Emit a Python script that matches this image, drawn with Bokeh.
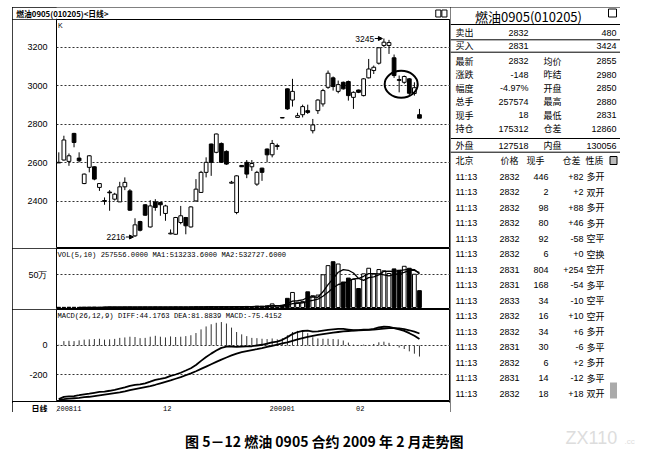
import pandas as pd
from bokeh.plotting import figure
from bokeh.models import Range1d, FixedTicker, Spacer, Arrow, NormalHead
from bokeh.layouts import row, column
from bokeh.embed import file_html
from bokeh.resources import INLINE
from bokeh.core.properties import value

# ---------------- data ----------------
bars = list(range(1, 73))
opens = [2600, 2615, 2608, 2753, 2625, 2493, 2577, 2580, 2473, 2405,
         2449, 2412, 2398, 2476, 2455, 2222, 2296, 2383, 2268, 2398,
         2395, 2338, 2232, 2230, 2291, 2317, 2268, 2403, 2447, 2551,
         2698, 2655, 2701, 2660, 2495, 2343, 2587, 2603, 2580, 2490,
         2573, 2672, 2642, 2685, 2835, 2984, 2926, 2836, 2850, 2871,
         2767, 2871, 2906, 2992, 3041, 2971, 3018, 3022, 2940, 2978,
         2949, 3041, 3079, 3117, 3209, 3209, 3145, 3032, 3018, 3036,
         2960, 2850]
highs = [2655, 2741, 2649, 2756, 2655, 2545, 2640, 2582, 2495, 2421,
         2459, 2445, 2502, 2525, 2464, 2313, 2300, 2386, 2407, 2412,
         2398, 2383, 2255, 2320, 2377, 2320, 2375, 2516, 2559, 2629,
         2700, 2752, 2706, 2665, 2507, 2536, 2588, 2615, 2615, 2559,
         2575, 2675, 2719, 2700, 2836, 2986, 3036, 2860, 2902, 2902,
         2828, 2930, 2984, 3079, 3048, 3027, 3022, 3027, 2971, 2980,
         3040, 3139, 3105, 3200, 3245, 3238, 3162, 3053, 3053, 3040,
         3018, 2880]
lows = [2600, 2612, 2585, 2681, 2603, 2490, 2551, 2510, 2455, 2383,
        2352, 2405, 2398, 2459, 2352, 2216, 2245, 2326, 2265, 2352,
        2326, 2300, 2230, 2228, 2282, 2230, 2265, 2400, 2445, 2525,
        2533, 2650, 2600, 2590, 2493, 2334, 2579, 2521, 2559, 2481,
        2507, 2603, 2629, 2668, 2832, 2875, 2892, 2833, 2836, 2854,
        2753, 2854, 2892, 2984, 2975, 2961, 2980, 2923, 2880, 2962,
        2945, 3038, 3061, 3110, 3200, 3165, 3041, 2966, 3010, 2949,
        2949, 2831]
closes = [2603, 2719, 2637, 2706, 2611, 2542, 2637, 2516, 2493, 2401,
          2445, 2438, 2476, 2499, 2355, 2279, 2251, 2329, 2377, 2369,
          2383, 2377, 2236, 2317, 2326, 2274, 2372, 2464, 2551, 2603,
          2603, 2750, 2603, 2594, 2500, 2533, 2580, 2542, 2597, 2551,
          2551, 2642, 2701, 2690, 2833, 2880, 2971, 2845, 2892, 2862,
          2797, 2926, 2975, 3065, 2996, 3006, 2984, 2949, 2966, 2966,
          3036, 3087, 3096, 3197, 3226, 3224, 3053, 3028, 3048, 2961,
          2990, 2832]
volumes = [3000, 2000, 4000, 3000, 2000, 3000, 4000, 5000, 3000, 4000,
           5000, 4000, 3000, 5000, 6000, 4000, 5000, 6000, 5000, 7000,
           6000, 5000, 6000, 8000, 7000, 6000, 8000, 9000, 8000, 10000,
           12000, 9000, 11000, 10000, 12000, 14000, 12000, 16000, 15000, 20000,
           18000, 25000, 55000, 30000, 35000, 140000, 230000, 80000, 90000, 240000,
           180000, 190000, 500000, 640000, 700000, 665000, 390000, 450000, 430000, 290000,
           515000, 600000, 511108, 580000, 560000, 520000, 590000, 570000, 630000, 600000,
           508612, 257556]
diff = [-365.5, -351, -347, -345, -339.5, -333, -329, -323, -317, -315,
        -309, -302.5, -294, -285.5, -275, -269, -266, -258, -247, -235,
        -228, -220.5, -207, -198, -186, -171, -155, -133.5, -105, -79,
        -55.5, -34.5, -16, -7, -7, -9, -7, -6, -5, 0,
        5, 12, 22, 27, 39, 57, 78, 92, 99, 101,
        94, 96, 101, 106, 110, 113, 113, 109, 104, 105,
        108, 109, 114, 123, 128, 127, 119, 110, 100, 84,
        66, 44.1763]
dea = [-368, -366, -363, -360, -357, -353, -350, -345, -340, -335,
       -330, -325, -320, -313, -305, -298, -291, -284, -277, -268,
       -258, -248, -238, -227, -216, -203, -190, -176, -160, -144,
       -128, -112, -96, -82, -68, -55, -45, -38, -31, -25,
       -18, -10, -2, 6, 14, 22, 32, 42, 51, 59,
       66, 72, 78, 83, 88, 92, 96, 99, 101, 103,
       105, 107, 109, 112, 115, 118, 119, 117, 112, 104,
       94, 81.8839]
macd = [5, 30, 32, 30, 35, 40, 42, 44, 46, 40,
        42, 45, 52, 55, 60, 58, 50, 52, 60, 66,
        60, 55, 62, 58, 60, 64, 70, 85, 110, 130,
        145, 155, 160, 150, 122, 92, 76, 64, 52, 50,
        46, 44, 48, 42, 50, 70, 92, 100, 96, 84,
        56, 48, 46, 46, 44, 42, 34, 20, 6, 4,
        6, 4, 10, 22, 26, 18, 0, -14, -24, -40,
        -56, -75.4152]
month_labels = ["200811", "12", "200901", "02"]
month_start_bars = [1, 22, 43, 60]
price_ticks = [2400, 2600, 2800, 3000, 3200]
vol_ticks = [500000]
vol_tick_labels = ["50万"]
macd_ticks = [-200, 0]
macd_tick_labels = ["-200", "0"]

sell_row = ["卖出", "2832", "480"]
buy_row = ["买入", "2831", "3424"]
quote_names_l = ["最新", "涨跌", "幅度", "总手", "现手", "持仓"]
quote_vals_l = ["2832", "-148", "-4.97%", "257574", "18", "175312"]
quote_names_r = ["均价", "昨结", "开盘", "最高", "最低", "仓差"]
quote_vals_r = ["2855", "2980", "2850", "2880", "2831", "12860"]
outer_inner = ["外盘", "127518", "内盘", "130056"]
trade_header = ["北京", "价格", "现手", "仓差", "性质"]
trade_times = ["11:13"] * 15
trade_prices = ["2832", "2832", "2832", "2832", "2832", "2832", "2831", "2831",
                "2833", "2832", "2832", "2831", "2832", "2831", "2832"]
trade_vols = ["446", "2", "98", "80", "92", "6", "804", "168", "34", "16",
              "34", "30", "6", "14", "18"]
trade_oi = ["+82", "+2", "+88", "+46", "-58", "+0", "+254", "-54", "-10", "+10",
            "+6", "-6", "+2", "-12", "+18"]
trade_types = ["多开", "双开", "多开", "多开", "空平", "空换", "空开", "多平", "空平",
               "空开", "多开", "多平", "多开", "多平", "双开"]
title_text = "燃油0905(010205)<日线>"
axis_name = "日线"
panel_title = "燃油0905(010205)"
caption = "图 5－12   燃油 0905 合约 2009 年 2 月走势图"

# ---------------- layout constants ----------------
CJK = "Noto Sans CJK SC"
SANS = "Liberation Sans"
MONO = "Liberation Mono"
BOX = {"outline": "1px solid black", "outline-offset": "-1px"}
W = 438            # left column width
AXW = 44           # y-axis label area
BAR_PX = 5.08      # pixels per bar
FIRST_OFF = 2.3    # first bar offset from frame left (px)
x_start = 1 - FIRST_OFF / BAR_PX
x_end = x_start + (W - AXW) / BAR_PX
xr = Range1d(x_start, x_end)

up = [c >= o for o, c in zip(opens, closes)]
fills = ["white" if u else "black" for u in up]
s = pd.Series(volumes, dtype=float)
ma5 = s.rolling(5).mean()
ma10 = s.rolling(10).mean()


def txt(p, xs, ys, texts, align="left", size="9px", font=CJK, style="normal",
        color="black", baseline="middle"):
    p.text(x=xs, y=ys, text=texts, text_align=align, text_baseline=baseline,
           text_font_size=size, text_font=value(font), text_font_style=style,
           text_color=color)


def bare(width, height, xrange, yrange, styles=BOX):
    p = figure(width=width, height=height, x_range=xrange, y_range=yrange,
               output_backend="svg", toolbar_location=None, tools="",
               x_axis_location=None, y_axis_location=None, min_border=0,
               outline_line_color=None, background_fill_color="white",
               border_fill_color="white", styles=styles)
    p.grid.visible = False
    return p


def style_yaxis(ax, ticks, overrides=None, size="9px", font=SANS, bold=False,
                standoff=3):
    ax.ticker = FixedTicker(ticks=ticks)
    ax.major_tick_line_color = None
    ax.minor_tick_line_color = None
    ax.axis_line_color = None
    ax.major_label_standoff = standoff
    ax.major_label_text_font_size = size
    ax.major_label_text_font = font
    ax.major_label_text_color = "black"
    if bold:
        ax.major_label_text_font_style = "bold"
    if overrides:
        ax.major_label_overrides = overrides


def panel(height, y0, y1, ticks, overrides=None, outline="black"):
    p = figure(width=W, height=height, x_range=xr, y_range=Range1d(y0, y1),
               output_backend="svg", toolbar_location=None, tools="",
               x_axis_location=None, min_border=0, min_border_left=AXW,
               outline_line_color=outline, background_fill_color="white",
               border_fill_color="white", styles=BOX)
    style_yaxis(p.yaxis[0], ticks, overrides)
    p.xgrid.visible = False
    p.ygrid.grid_line_color = "#333333"
    p.ygrid.grid_line_dash = "2 2"
    p.ygrid.grid_line_width = 1
    return p


# ---------------- header strip (title as the strip's single axis label) ----------------
hd = panel(12, 0, 12, [6], {6: title_text}, outline=None)
style_yaxis(hd.yaxis[0], [6], {6: title_text}, size="7.8px", font=CJK, bold=True,
            standoff=-58)
hd.ygrid.visible = False
hd.rect(x=[x_end - 2.4, x_end - 1.2], y=[6, 6], width=1.0, height=7,
        fill_color=None, line_color="black")

# ---------------- candles ----------------
cp = panel(229, 2156.3, 3343.6, price_ticks)
cp.segment(x0=bars, y0=highs, x1=bars, y1=lows, line_color="black", line_width=1)
cp.vbar(x=bars, width=0.74, top=[max(o, c) for o, c in zip(opens, closes)],
        bottom=[min(o, c) for o, c in zip(opens, closes)], fill_color=fills,
        line_color="black", line_width=1)
txt(cp, [x_start + 0.3], [3343.6 - 12], ["K"], size="7px", font=SANS,
    baseline="top")
k_hi = max(range(len(highs)), key=lambda k: highs[k])
k_lo = min(range(len(lows)), key=lambda k: lows[k])
for k, val in ((k_hi, highs[k_hi]), (k_lo, lows[k_lo])):
    b = bars[k]
    txt(cp, [b - 1.9], [val], [str(val)], align="right", size="8.5px", font=SANS)
    cp.add_layout(Arrow(end=NormalHead(size=4, fill_color="black",
                                       line_color="black"),
                        x_start=b - 1.8, y_start=val, x_end=b - 0.3, y_end=val,
                        line_color="black", line_width=1))
cp.ellipse(x=[68.4], y=[3008], width=[6.5], height=[140], fill_color=None,
           line_color="black", line_width=2)

# ---------------- volume ----------------
vp = panel(61, -30600, 902000, vol_ticks, dict(zip(vol_ticks, vol_tick_labels)))
vp.vbar(x=bars, width=0.74, top=volumes, bottom=0, fill_color=fills,
        line_color="black", line_width=1)
vp.line(bars, ma5.tolist(), line_color="black", line_width=1.3)
vp.line(bars, ma10.tolist(), line_color="black", line_width=1.3)
vol_head = "VOL(5,10) %.4f MA1:%.4f MA2:%.4f" % (volumes[-1], ma5.iloc[-1], ma10.iloc[-1])
txt(vp, [x_start + 0.2], [902000 - 45000], [vol_head], size="7.2px", font=MONO,
    baseline="top")

# ---------------- MACD ----------------
mp = panel(92, -382.3, 245.7, macd_ticks, dict(zip(macd_ticks, macd_tick_labels)))
mp.segment(x0=bars, y0=[0] * len(bars), x1=bars, y1=macd, line_color="#333333",
           line_width=1)
mp.line(bars, diff, line_color="black", line_width=1.8)
mp.line(bars, dea, line_color="black", line_width=1.8)
macd_head = "MACD(26,12,9) DIFF:%.4f DEA:%.4f MACD:%.4f" % (diff[-1], dea[-1], macd[-1])
txt(mp, [x_start + 0.2], [245.7 - 14], [macd_head], size="7.2px", font=MONO,
    baseline="top")

# ---------------- date strip ----------------
ds = panel(11, 0, 1, [0.5], {0.5: axis_name}, outline=None)
style_yaxis(ds.yaxis[0], [0.5], {0.5: axis_name}, size="8px", font=CJK, bold=True)
ds.ygrid.visible = False
txt(ds, [m - 0.5 for m in month_start_bars], [0.5] * len(month_labels),
    month_labels, size="7px", font=MONO)

left_col = column(hd, cp, vp, mp, ds)

# ---------------- right quote panel ----------------
rp = bare(170, 405, Range1d(0, 170), Range1d(404, -1))
txt(rp, [78], [7.5], [panel_title], align="center", size="13px")
rp.rect(x=[162], y=[4.5], width=8, height=8, fill_color=None, line_color="black")
line_ys = [16, 31.3, 43.7, 130, 143.7]
rp.segment(x0=[0] * len(line_ys), y0=line_ys, x1=[170] * len(line_ys), y1=line_ys,
           line_color="black", line_width=1)
top_rows = [sell_row, buy_row]
top_ys = [24.3, 37.3]
txt(rp, [5, 5], top_ys, [r[0] for r in top_rows])
txt(rp, [78, 78], top_ys, [r[1] for r in top_rows], align="right", font=SANS)
txt(rp, [166, 166], top_ys, [r[2] for r in top_rows], align="right", font=SANS)
q_ys = [52.7 + 13.5 * k for k in range(len(quote_names_l))]
txt(rp, [5] * 6, q_ys, quote_names_l)
txt(rp, [78] * 6, q_ys, quote_vals_l, align="right", font=SANS)
txt(rp, [93] * 6, q_ys, quote_names_r)
txt(rp, [166] * 6, q_ys, quote_vals_r, align="right", font=SANS)
txt(rp, [5, 93], [137.2, 137.2], [outer_inner[0], outer_inner[2]])
txt(rp, [78, 166], [137.2, 137.2], [outer_inner[1], outer_inner[3]], align="right",
    font=SANS)
txt(rp, [5, 50, 76, 112, 135], [152] * 5, trade_header)
rp.rect(x=[163], y=[152], width=7, height=8, fill_color="#bbbbbb", line_color="black")
t_ys = [168 + 15.52 * k for k in range(len(trade_times))]
n = len(trade_times)
txt(rp, [5] * n, t_ys, trade_times, font=SANS)
txt(rp, [69] * n, t_ys, trade_prices, align="right", font=SANS)
txt(rp, [98] * n, t_ys, trade_vols, align="right", font=SANS)
txt(rp, [133] * n, t_ys, trade_oi, align="right", font=SANS)
txt(rp, [136] * n, t_ys, trade_types)
rp.rect(x=[163], y=[382], width=7, height=16, fill_color="#aaaaaa", line_color=None)

top_row = row(Spacer(width=12, height=405), left_col, rp)

# ---------------- caption ----------------
cf = bare(640, 39, Range1d(0, 640), Range1d(39, 0), styles={})
txt(cf, [327], [28], [caption], align="center", size="14px", style="bold")
txt(cf, [565], [25], ["ZX110"], size="18px", font=SANS, color="#dddddd")
txt(cf, [624], [29], [".cc"], size="8px", font=SANS, color="#dddddd")

page = column(Spacer(width=640, height=7), top_row, cf)
open("out.html", "w").write(file_html(page, INLINE))
